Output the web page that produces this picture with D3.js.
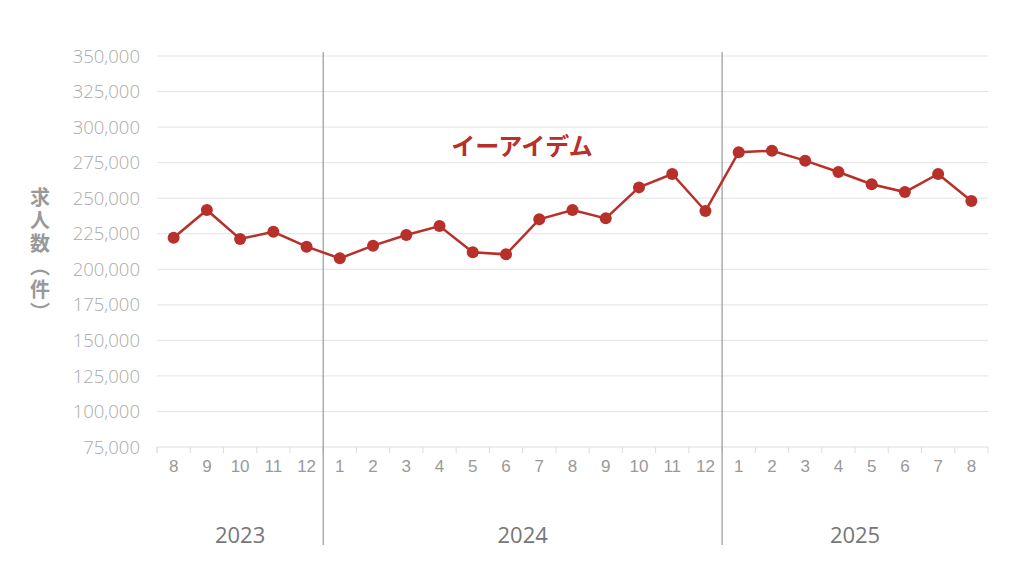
<!DOCTYPE html>
<html><head><meta charset="utf-8">
<script src="https://cdn.jsdelivr.net/npm/d3@7"></script>
<style>
body{margin:0;background:#fff;}
svg{display:block;font-family:"Open Sans","Noto Sans CJK JP",sans-serif;}
</style></head>
<body><svg id="c" width="1024" height="575"></svg>
<script>
const months = ["8","9","10","11","12","1","2","3","4","5","6","7","8","9","10","11","12","1","2","3","4","5","6","7","8"];
const years = [{label:"2023",start:0,end:5},{label:"2024",start:5,end:17},{label:"2025",start:17,end:25}];
const values = [222200,241700,221300,226400,215900,207700,216600,224100,230400,211900,210500,235100,241700,235800,257600,267000,241000,282300,283400,276400,268400,259800,254300,267000,248000];
const yTicks = [75000,100000,125000,150000,175000,200000,225000,250000,275000,300000,325000,350000];
const seriesName = "イーアイデム";
const yTitle = "求人数（件）";

(function(){
const svg = d3.select("#c");
const pL=157, pR=988, pT=56, pB=447;
const idx = d3.range(values.length);
const x = d3.scaleBand().domain(idx).range([pL,pR]);
const y = d3.scaleLinear().domain([75000,350000]).range([pB,pT]);
const red = "#b8302a";
const cjk = '"Noto Sans CJK JP",sans-serif';

svg.append("g").selectAll("line").data(yTicks.slice(1)).join("line")
  .attr("x1",pL).attr("x2",pR).attr("y1",d=>y(d)).attr("y2",d=>y(d))
  .attr("stroke","#e3e3e3").attr("stroke-width",1);

const fmt = d3.format(",");
svg.append("g").selectAll("text").data(yTicks).join("text")
  .attr("x",140).attr("y",d=>y(d)).attr("dy","0.36em").attr("text-anchor","end")
  .attr("font-size",18.5).attr("fill","#aaaaaa").attr("font-weight",300).text(d=>fmt(d));

const xAxis = d3.axisBottom(x).tickSize(6).tickFormat(i=>months[i]);
const gx = svg.append("g").attr("transform",`translate(0,${pB})`).call(xAxis);
gx.select(".domain").attr("stroke","#dddddd").attr("d",`M${pL},6V0H${pR}V6`);
gx.selectAll(".tick line").attr("stroke","#dddddd").attr("transform",`translate(${-x.bandwidth()/2},0)`);
gx.selectAll(".tick text").attr("font-size",17).attr("fill","#999999").attr("dy","0.95em").attr("font-family","inherit").attr("font-weight",300);

years.slice(1).forEach(yr=>{
  const xs = x(yr.start);
  svg.append("line").attr("x1",xs).attr("x2",xs).attr("y1",52).attr("y2",545)
    .attr("stroke","#999999").attr("stroke-width",1.2);
});
svg.append("g").selectAll("text").data(years).join("text")
  .attr("x",d=>(x(d.start)+ (d.end<values.length? x(d.end): pR))/2)
  .attr("y",535).attr("dy","0.36em").attr("text-anchor","middle")
  .attr("font-size",22).attr("fill","#777777").text(d=>d.label);

svg.append("path").datum(values)
  .attr("d",d3.line().x((d,i)=>x(i)+x.bandwidth()/2).y(d=>y(d)))
  .attr("fill","none").attr("stroke",red).attr("stroke-width",2.5);
svg.append("g").selectAll("circle").data(values).join("circle")
  .attr("cx",(d,i)=>x(i)+x.bandwidth()/2).attr("cy",d=>y(d)).attr("r",6).attr("fill",red);

svg.append("text").attr("x",522).attr("y",147).attr("dy","0.35em").attr("text-anchor","middle")
  .attr("font-family",cjk).attr("font-size",24).attr("font-weight",700).attr("fill",red).text(seriesName);

svg.append("text").attr("x",40).attr("y",187)
  .style("writing-mode","vertical-rl").style("text-orientation","upright")
  .attr("letter-spacing",3)
  .attr("font-family",cjk).attr("font-size",20).attr("font-weight",700).attr("fill","#999999").text(yTitle);
})();
</script></body></html>
